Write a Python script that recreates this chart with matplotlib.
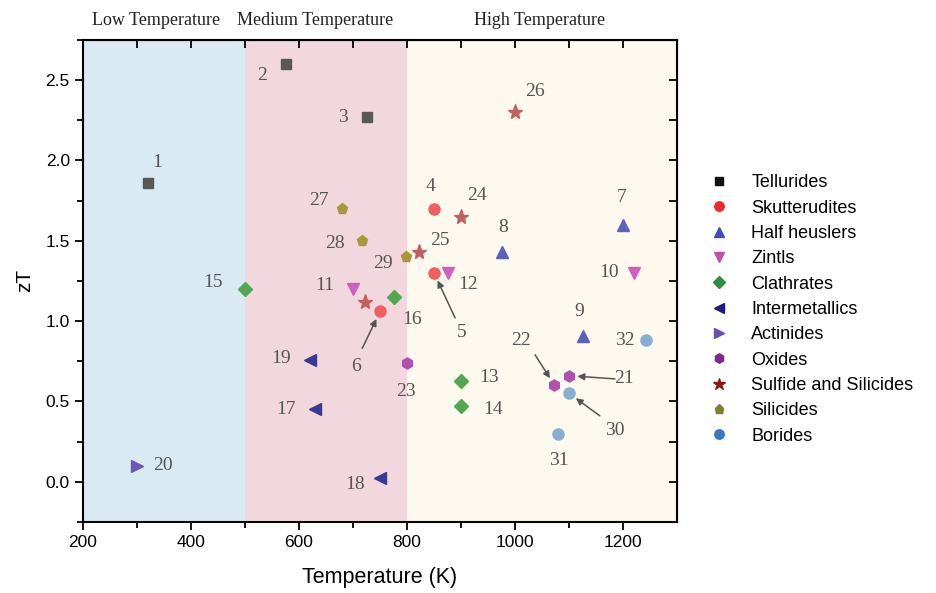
import matplotlib.pyplot as plt
from matplotlib.lines import Line2D

plt.rcParams['font.family'] = ['Liberation Sans', 'DejaVu Sans']

# categories and their points (id, T in K, zT)
groups = ["Tellurides", "Skutterudites", "Half heuslers", "Zintls", "Clathrates",
          "Intermetallics", "Actinides", "Oxides", "Sulfide and Silicides",
          "Silicides", "Borides"]
markers = ["s", "o", "^", "v", "D", "<", ">", "h", "*", "p", "o"]
colors = ["#111111", "#ee2a2a", "#3f4fb5", "#c050b0", "#2a9040", "#1c1c7a",
          "#6a4fb0", "#7a2a8a", "#8a1515", "#7f7f30", "#3a78c0"]
plot_colors = ["#585858", "#f06060", "#5c60c0", "#d060c0", "#50a850", "#3a3a90",
               "#6c58b8", "#b050b0", "#c06060", "#a8983a", "#88aed2"]

ids = [[1, 2, 3], [4, 5, 6], [7, 8, 9], [10, 11, 12], [13, 14, 15, 16],
       [17, 18, 19], [20], [21, 22, 23], [24, 25, 26, None], [27, 28, 29],
       [30, 31, 32]]
temps = [[320, 575, 725], [850, 850, 750], [1200, 975, 1125], [1220, 700, 875],
         [900, 900, 500, 775], [630, 750, 620], [300], [1100, 1073, 800],
         [900, 822, 1000, 722], [680, 717, 798], [1100, 1080, 1243]]
zts = [[1.86, 2.6, 2.27], [1.7, 1.3, 1.06], [1.6, 1.43, 0.91], [1.3, 1.2, 1.3],
       [0.63, 0.47, 1.2, 1.15], [0.45, 0.02, 0.76], [0.1], [0.66, 0.6, 0.74],
       [1.65, 1.43, 2.3, 1.12], [1.7, 1.5, 1.4], [0.55, 0.3, 0.88]]

# where the numbers sit (data coords)
label_pos = {1: (337, 1.99), 2: (531, 2.53), 3: (681, 2.27), 4: (844, 1.84),
             5: (902, 0.93), 6: (706, 0.72), 7: (1198, 1.77), 8: (978, 1.58),
             9: (1119, 1.06), 10: (1174, 1.30), 11: (648, 1.22), 12: (913, 1.23),
             13: (952, 0.65), 14: (960, 0.45), 15: (441, 1.24), 16: (809, 1.01),
             17: (576, 0.45), 18: (704, -0.02), 19: (567, 0.77), 20: (348, 0.10),
             21: (1202, 0.64), 22: (1011, 0.88), 23: (798, 0.56), 24: (930, 1.78),
             25: (861, 1.50), 26: (1037, 2.43), 27: (637, 1.75), 28: (667, 1.48),
             29: (756, 1.36), 30: (1185, 0.32), 31: (1081, 0.13), 32: (1204, 0.88)}
arrow_tail = {5: (889, 1.02), 6: (717, 0.83), 21: (1185, 0.64),
              22: (1037, 0.79), 30: (1157, 0.41)}

regions = [(200, 500, "#d9eaf5", "Low Temperature"),
           (500, 800, "#f2d8de", "Medium Temperature"),
           (800, 1300, "#fdf9ee", "High Temperature")]

fig = plt.figure(figsize=(9.37, 5.93), dpi=100)
ax = fig.add_axes([0.0886, 0.12, 0.634, 0.8125])

for x0, x1, c, name in regions:
    ax.axvspan(x0, x1, color=c, zorder=0, lw=0)
fig.text(0.167, 0.966, "Low Temperature", family="Liberation Serif", fontsize=13,
         color="#222222", ha="center", va="center")
fig.text(0.336, 0.966, "Medium Temperature", family="Liberation Serif", fontsize=13,
         color="#222222", ha="center", va="center")
fig.text(0.576, 0.966, "High Temperature", family="Liberation Serif", fontsize=13,
         color="#222222", ha="center", va="center")

handles = []
for g, m, c, pc, gid, t, z in zip(groups, markers, colors, plot_colors, ids, temps, zts):
    ms = 11 if m == "*" else (7 if m in "sD" else 8)
    ax.plot(t, z, ls="none", marker=m, ms=ms, color=pc, mec=pc, zorder=3)
    handles.append(Line2D([], [], ls="none", marker=m, ms=ms * 0.85, color=c, mec=c, label=g))
    for i, xx, yy in zip(gid, t, z):
        if i is None:
            continue
        lx, ly = label_pos[i]
        ax.text(lx, ly, str(i), family="Liberation Serif", fontsize=14,
                color="#555555", ha="center", va="center", zorder=4)
        if i in arrow_tail:
            ax.annotate("", xy=(xx, yy), xytext=arrow_tail[i],
                        arrowprops=dict(arrowstyle="-|>", color="#555555", lw=1.1,
                                        shrinkA=0, shrinkB=6, mutation_scale=10),
                        zorder=4)

ax.set_xlim(200, 1300)
ax.set_ylim(-0.25, 2.75)
ax.set_xticks([200, 400, 600, 800, 1000, 1200])
ax.set_xticks(range(300, 1300, 200), minor=True)
ax.set_yticks([0.0, 0.5, 1.0, 1.5, 2.0, 2.5])
ax.set_yticks([-0.25, 0.25, 0.75, 1.25, 1.75, 2.25, 2.75], minor=True)
ax.set_yticklabels(["0.0", "0.5", "1.0", "1.5", "2.0", "2.5"])
ax.tick_params(which="both", direction="out", width=1.3, labelsize=12.5,
               top=False, right=False)
ax.tick_params(which="major", length=6)
ax.tick_params(which="minor", length=4)
for s in ax.spines.values():
    s.set_linewidth(1.5)

# inward ticks on top and right
top = ax.secondary_xaxis("top")
top.set_xticks(range(200, 1301, 100))
top.tick_params(direction="in", length=6, width=1.3, labeltop=False)
right = ax.secondary_yaxis("right")
right.set_yticks([-0.25, 0, 0.25, 0.5, 0.75, 1, 1.25, 1.5, 1.75, 2, 2.25, 2.5, 2.75])
right.tick_params(direction="in", length=6, width=1.3, labelright=False)

ax.set_xlabel("Temperature (K)", fontsize=15.5, labelpad=12)
ax.set_ylabel("zT", fontsize=15, labelpad=8)

fig.legend(handles=handles, loc="upper left", bbox_to_anchor=(0.74, 0.718),
           frameon=False, fontsize=13, handletextpad=0.8, labelspacing=0.46,
           borderaxespad=0)

fig.savefig("out.png", dpi=100)
